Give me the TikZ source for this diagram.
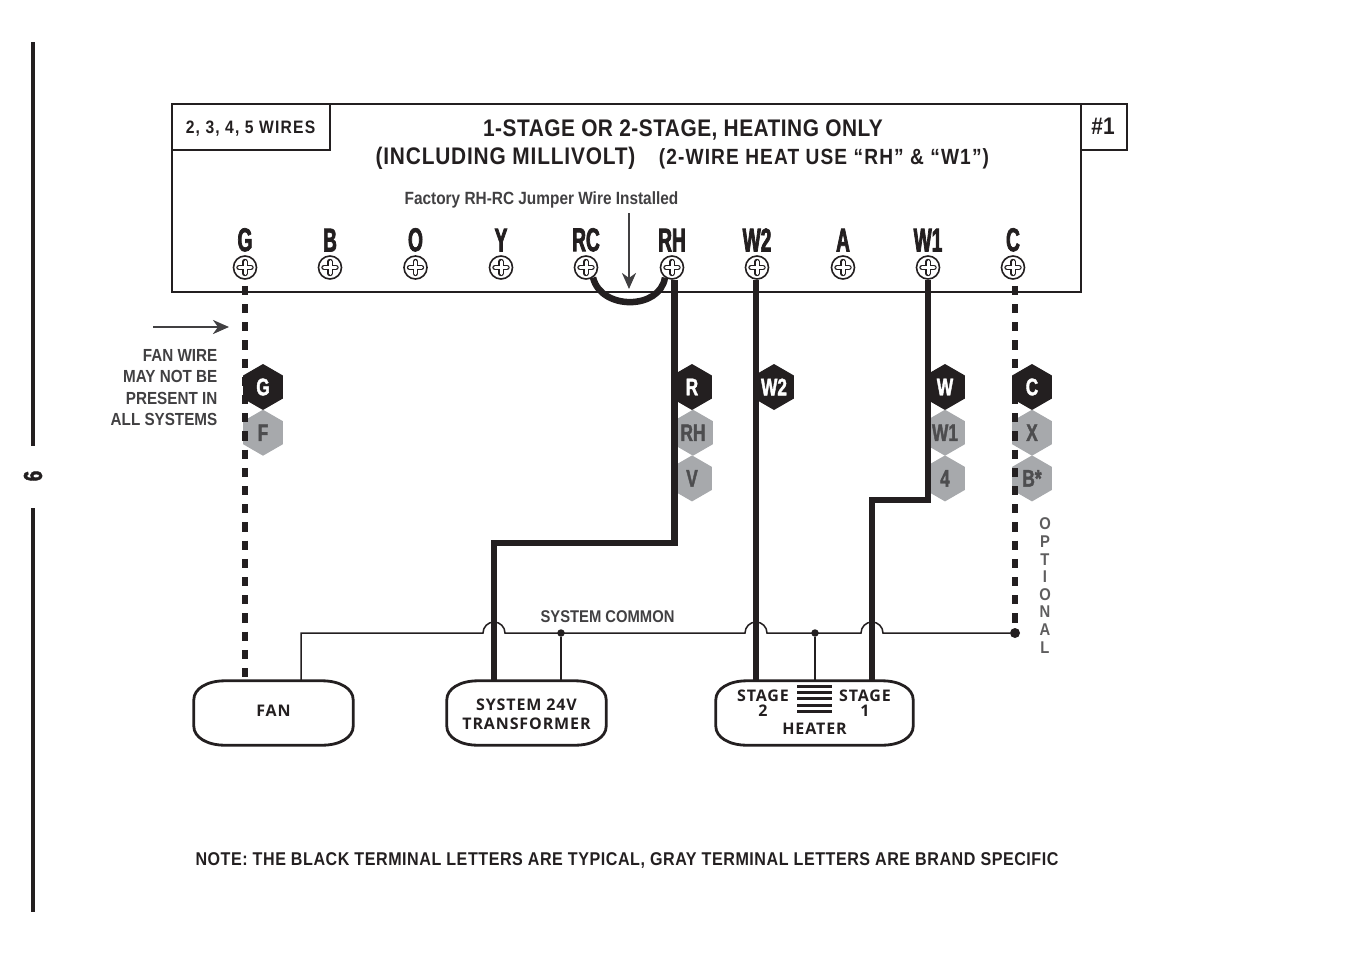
\documentclass[tikz,border=0pt]{standalone}
\usepackage{fontspec}
\usepackage{xcolor}
\usetikzlibrary{positioning, arrows.meta, shapes.geometric, calc}

\newfontfamily\headfont[FakeStretch=0.87]{Liberation Sans}
\newfontfamily\termfont[FakeStretch=0.58,FakeBold=2.2]{Liberation Sans}
\newfontfamily\hexfont[FakeStretch=0.72,FakeBold=1.6]{Liberation Sans}
\newfontfamily\devfont[LetterSpace=5.5]{Open Sans}
\newcommand{\hd}[2]{\headfont\bfseries\fontsize{#2}{#2}\selectfont\addfontfeature{LetterSpace=#1}}

\definecolor{ink}{HTML}{231F20}
\definecolor{softink}{HTML}{414042}
\definecolor{hexgray}{HTML}{A7A9AC}
\definecolor{hexink}{HTML}{4D4D4F}

% outline of a device box, corners wider than tall
\newcommand{\devoutline}[1]{
	\draw[boxline] ([yshift=-19pt]#1.north west)
	.. controls ([yshift=-8pt]#1.north west) and ([xshift=13pt]#1.north west) .. ([xshift=31pt]#1.north west)
	-- ([xshift=-31pt]#1.north east)
	.. controls ([xshift=-13pt]#1.north east) and ([yshift=-8pt]#1.north east) .. ([yshift=-19pt]#1.north east)
	-- ([yshift=19pt]#1.south east)
	.. controls ([yshift=8pt]#1.south east) and ([xshift=-13pt]#1.south east) .. ([xshift=-31pt]#1.south east)
	-- ([xshift=31pt]#1.south west)
	.. controls ([xshift=13pt]#1.south west) and ([yshift=8pt]#1.south west) .. ([yshift=19pt]#1.south west)
	-- cycle;
}

\begin{document}
\begin{tikzpicture}[x=1pt,y=-1pt,
		boxline/.style={draw=ink,line width=2.8pt,line join=round},
		framebox/.style={draw=ink,line width=2.4pt,anchor=north west,inner sep=0pt},
		screw/.style={circle,draw=ink,fill=white,line width=1.6pt,minimum size=23pt,inner sep=0pt,
			path picture={
				\draw[ink,line width=5.4pt,line cap=round]
				([yshift=-6pt]path picture bounding box.center) -- ([yshift=6pt]path picture bounding box.center)
				([xshift=-6pt]path picture bounding box.center) -- ([xshift=6pt]path picture bounding box.center);
				\draw[white,line width=3pt,line cap=round]
				([yshift=-6pt]path picture bounding box.center) -- ([yshift=6pt]path picture bounding box.center)
				([xshift=-6pt]path picture bounding box.center) -- ([xshift=6pt]path picture bounding box.center);
		}},
		termlabel/.style={font=\termfont\bfseries\fontsize{33}{33}\selectfont,text=ink,inner sep=0pt},
		hexblack/.style={regular polygon,regular polygon sides=6,regular polygon rotate=30,fill=ink,minimum size=46pt,inner sep=0pt,
			text=white,font=\hexfont\bfseries\fontsize{24}{24}\selectfont},
		hexgrey/.style={hexblack,fill=hexgray,text=hexink},
		device/.style={minimum height=64pt,inner sep=0pt},
		devtext/.style={font=\devfont\bfseries\fontsize{16}{19}\selectfont,text=ink,align=center,inner sep=0pt},
		heavywire/.style={draw=ink,line width=6.5pt},
		dashwire/.style={draw=ink,line width=6.2pt,dash pattern=on 9.1pt off 9.1pt},
		thinwire/.style={draw=ink,line width=1.5pt},
		dot/.style={circle,fill=ink,inner sep=0pt,minimum size=#1},
		pointer/.style={draw=softink,line width=2.6pt,-{Stealth[length=16pt,width=14pt,inset=5pt]}},
		note/.style={text=ink,inner sep=0pt}]
	
	\useasboundingbox (0,0) rectangle (1347,954);
	
	% page rule and number
	\draw[ink,line width=4pt] (33,42) -- (33,446) (33,508) -- (33,912);
	\node[font=\hexfont\bfseries\fontsize{26}{26}\selectfont,text=ink,rotate=90,inner sep=0pt] (pagenum) at (33,476) {6};
	
	% board and its two tabs
	\node[framebox,minimum width=909pt,minimum height=188pt] (board) at (171,103) {};
	\node[framebox,minimum width=158pt,minimum height=46pt] (wiretab) at (171,103) {};
	\node[framebox,minimum width=46pt,minimum height=46pt] (numtab) at (1080,103) {};
	\node[note,font=\hd{6.5}{18}] at (250.5,128.5) {2, 3, 4, 5 WIRES};
	\node[note,font=\hd{0}{24}] at (1103,126) {\#1};
	\node[note,font=\hd{2}{24}] (title) at (683,129.5) {1-STAGE OR 2-STAGE, HEATING ONLY};
	\node[note,font=\hd{3.4}{24}] (subtitle) at (505.5,158) {(INCLUDING MILLIVOLT)};
	\node[note,font=\hd{5}{22}] (hint) at (824,158.5) {(2-WIRE HEAT USE “RH” \& “W1”)};
	\node[note,text=softink,font=\hd{0}{17.7}] (factory) at (541.5,200) {Factory RH-RC Jumper Wire Installed};
	
	% terminals
	\foreach \name/\xpos in {G/245,B/330,O/415.5,Y/501,RC/586,RH/672,W2/757,A/843,W1/928,C/1013}{
		\node[screw] (s\name) at (\xpos,267.5) {};
		\node[termlabel,above=3.5pt of s\name] {\name};
	}
	
	% devices
	\node[device,minimum width=159pt] (fan) at (273.5,713) {};
	\node[device,minimum width=159pt] (xfmr) at (526.5,713) {};
	\node[device,minimum width=197pt] (heater) at (814.5,713) {};
	\devoutline{fan}
	\devoutline{xfmr}
	\devoutline{heater}
	\node[devtext] at (273.5,710.5) {FAN};
	\node[devtext] at (526.5,714) {SYSTEM 24V\\TRANSFORMER};
	\node[devtext,font=\devfont\bfseries\fontsize{16}{15}\selectfont] (stagetwo) at (763,703.5) {STAGE\\2};
	\node[devtext,font=\devfont\bfseries\fontsize{16}{15}\selectfont] (stageone) at (865,703.5) {STAGE\\1};
	\node[devtext] (heatertxt) at (814.5,728.5) {HEATER};
	\foreach \ypos in {686.5,692.7,698.8,705,711}
		\draw[ink,line width=3pt] (797,\ypos) -- (832,\ypos);
	
	% terminal letter badges
	\node[hexblack] (hG) at (263,387) {G};
	\node[hexgrey] (hF) at (263,432.7) {F};
	\node[hexblack] (hR) at (692,387) {R};
	\node[hexgrey] (hRH) at (693,432.7) {RH};
	\node[hexgrey] (hV) at (692,478.4) {V};
	\node[hexblack] (hWtwo) at (774,387) {W2};
	\node[hexblack] (hW) at (945,387) {W};
	\node[hexgrey] (hWone) at (945,432.7) {W1};
	\node[hexgrey] (hFour) at (945,478.4) {4};
	\node[hexblack] (hC) at (1032,387) {C};
	\node[hexgrey] (hX) at (1032,432.7) {X};
	\node[hexgrey] (hBstar) at (1032,478.4) {B*};
	
	% common line
	\coordinate (fanup) at (301,633);
	\node[dot=7.5pt] (dotT) at (561,633) {};
	\node[dot=7.5pt] (dotH) at (815,633) {};
	\node[dot=10pt] (dotC) at (1015,633) {};
	\draw[thinwire] (fanup |- fan.north) -- (fanup) -- (483,633) arc[start angle=180,end angle=360,radius=11]
	-- (745,633) arc[start angle=180,end angle=360,radius=11]
	-- (861,633) arc[start angle=180,end angle=360,radius=11]
	-- (dotC);
	\draw[thinwire] (dotT) -- (dotT |- xfmr.north);
	\draw[thinwire] (dotH) -- (dotH |- heater.north);
	
	% wires
	\coordinate (bendR) at (494,543);
	\coordinate (bendW) at (872,500);
	\draw[heavywire] ([xshift=2.5pt]sRH.south) |- (bendR) -- (bendR |- xfmr.north);
	\draw[heavywire] (sW2.south) ++(-1pt,0) -- ++(0,402);
	\draw[heavywire] (sW1.south) |- (bendW) -- (bendW |- heater.north);
	\draw[dashwire] ([yshift=-6pt]sG.south) -- (sG |- fan.north);
	\draw[dashwire] ([xshift=2pt,yshift=-6pt]sC.south) -- (dotC);
	\draw[heavywire] (sRC.-55) .. controls +(8,33) and (660,310) .. (sRH.-125);
	
	% pointers
	\coordinate (fanpoint) at (229,327);
	\coordinate (jumppoint) at (629,289);
	\draw[pointer] (153,327) -- (fanpoint);
	\draw[pointer] (629,213) -- (jumppoint);
	
	% side notes
	\node[font=\hd{0}{17.5},text=softink,align=right,inner sep=0pt,anchor=east] (fannote) at (217.5,387.5)
	{FAN WIRE\\[3.7pt]MAY NOT BE\\[3.7pt]PRESENT IN\\[3.7pt]ALL SYSTEMS};
	\node[font=\hd{0}{17},text=softink,inner sep=0pt] (common) at (607.5,617) {SYSTEM COMMON};
	\node[font=\headfont\bfseries\fontsize{17}{17.6}\selectfont,text=softink!85,align=center,inner sep=0pt] (optional) at (1045,585.5)
	{O\\P\\T\\I\\O\\N\\A\\L};
	\node[note,font=\hd{2.9}{18.5}] (footnote) at (627,860) {NOTE: THE BLACK TERMINAL LETTERS ARE TYPICAL, GRAY TERMINAL LETTERS ARE BRAND SPECIFIC};
\end{tikzpicture}
\end{document}
